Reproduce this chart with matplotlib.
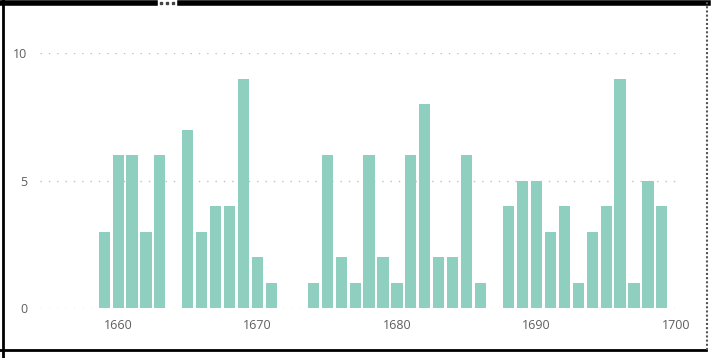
import matplotlib.pyplot as plt
from matplotlib.lines import Line2D

years = [1659, 1660, 1661, 1662, 1663,
         1665, 1666, 1667, 1668, 1669, 1670, 1671,
         1674, 1675, 1676, 1677, 1678, 1679, 1680, 1681, 1682, 1683, 1684, 1685, 1686,
         1688, 1689, 1690, 1691, 1692, 1693, 1694, 1695, 1696, 1697, 1698, 1699]
counts = [3, 6, 6, 3, 6,
          7, 3, 4, 4, 9, 2, 1,
          1, 6, 2, 1, 6, 2, 1, 6, 8, 2, 2, 6, 1,
          4, 5, 5, 3, 4, 1, 3, 4, 9, 1, 5, 4]
xticks = [1660, 1670, 1680, 1690, 1700]
yticks = [0, 5, 10]

plt.rcParams['font.family'] = ['Open Sans', 'DejaVu Sans']

fig = plt.figure(figsize=(7.15, 3.58), dpi=100)
ax = fig.add_axes([40/715, 1-308/358, 640/715, 255/358])
ax.bar(years, counts, width=0.8, color='#8ECFC0', zorder=2)
ax.set_xlim(1654.4, 1700.3)
ax.set_ylim(0, 10)
ax.set_xticks(xticks)
ax.set_yticks(yticks)
ax.grid(axis='y', color='#C0C0C0', linestyle=(0, (1, 5)), linewidth=1, zorder=0)
for s in ax.spines.values():
    s.set_visible(False)
ax.tick_params(length=0, labelsize=9, colors='#605E5C', pad=8)
ax.tick_params(axis='y', pad=9)

# report frame
fig.add_artist(Line2D([0, 155/715], [1-2.5/358]*2, color='black', lw=4))
fig.add_artist(Line2D([180/715, 708/715], [1-2.5/358]*2, color='black', lw=4))
fig.add_artist(Line2D([3/715]*2, [0, 1], color='black', lw=2))
fig.add_artist(Line2D([0, 706/715], [1-350/358]*2, color='black', lw=2))
fig.add_artist(Line2D([707/715]*2, [1-350/358, 1], color='#555555', lw=1.5, linestyle=(0, (1, 1))))
# "more options" dots in the header gap
fig.add_artist(Line2D([161/715, 167/715, 173/715], [1-3/358]*3, linestyle='none',
                      marker='s', markersize=1.5, color='#444444'))

fig.savefig('out.png', dpi=100)
